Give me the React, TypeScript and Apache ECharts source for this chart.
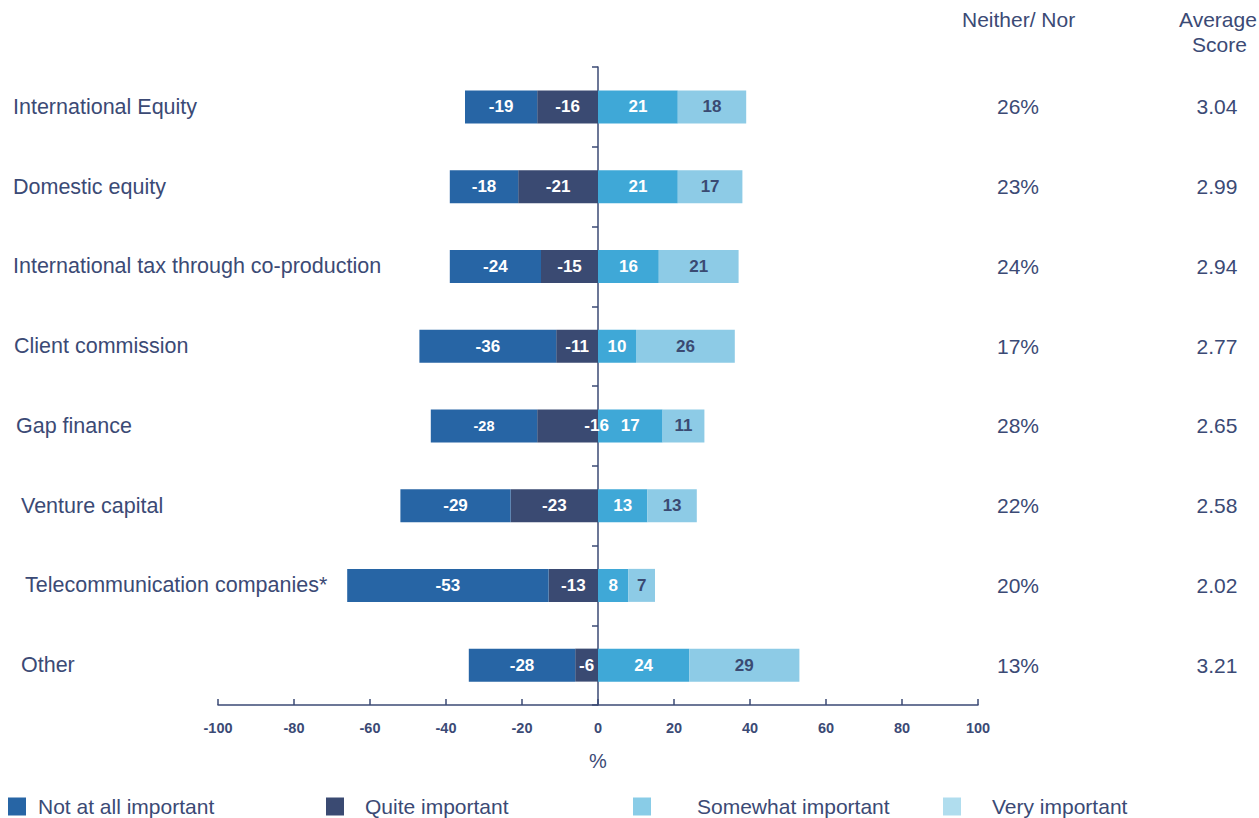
import React, { useEffect, useRef } from "react";
import * as echarts from "echarts";

const categories = [
  "International Equity",
  "Domestic equity",
  "International tax through co-production",
  "Client commission",
  "Gap finance",
  "Venture capital",
  "Telecommunication companies*",
  "Other",
];
const notAtAll = [-19, -18, -24, -36, -28, -29, -53, -28];
const quite = [-16, -21, -15, -11, -16, -23, -13, -6];
const somewhat = [21, 21, 16, 10, 17, 13, 8, 24];
const very = [18, 17, 21, 26, 11, 13, 7, 29];
const neitherNor = ["26%", "23%", "24%", "17%", "28%", "22%", "20%", "13%"];
const avgScore = ["3.04", "2.99", "2.94", "2.77", "2.65", "2.58", "2.02", "3.21"];
const seriesNames = ["Not at all important", "Quite important", "Somewhat important", "Very important"];
const xMin = -100;
const xMax = 100;
const xStep = 20;

// layout style: small left indents of the category labels, as in the original slide
const LABEL_INDENT = [0, 0, 0, 1, 3, 8, 12, 8];

const FONT = "'Liberation Sans', Arial, sans-serif";
const NAVY = "#3B4A75";
const C_NOT = "#2765A5";
const C_QUITE = "#3A4A72";
const C_SOME = "#3FA8D7";
const C_VERY = "#8DCBE6";
const L_SOME = "#89CCE7";
const L_VERY = "#B0DDEE";

export default function App() {
  const ref = useRef<HTMLDivElement>(null);
  useEffect(() => {
    if (!ref.current) return;
    const chart = echarts.init(ref.current, undefined, { renderer: "svg" });

    const barLabel = (color: string) => ({
      show: true,
      position: "inside",
      color,
      fontFamily: FONT,
      fontWeight: "bold",
      fontSize: 17,
    });

    const notData = notAtAll.map((v, i) =>
      categories[i] === "Gap finance" ? { value: v, label: { fontSize: 14.5 } } : v
    );
    const quiteData = quite.map((v, i) =>
      categories[i] === "Gap finance" ? { value: v, label: { offset: [29, 0] } } : v
    );

    const mkLegend = (name: string, color: string, left: number, gap: number) => ({
      show: true,
      left,
      top: 796,
      padding: 0,
      orient: "horizontal",
      selectedMode: false,
      icon: "rect",
      itemWidth: 18,
      itemHeight: 18,
      data: [{ name, itemStyle: { color } }],
      textStyle: {
        color: NAVY,
        fontFamily: FONT,
        fontSize: 21,
        padding: [0, 0, 0, gap],
      },
    });

    const rich: Record<string, any> = {};
    LABEL_INDENT.forEach((p, i) => {
      rich["c" + i] = {
        color: NAVY,
        fontFamily: FONT,
        fontSize: 21.5,
        padding: [0, 0, 0, p],
      };
    });

    const option = {
      animation: false,
      grid: { left: 218, right: 281, top: 67, bottom: 113, containLabel: false, outerBoundsMode: "none" },
      legend: [
        mkLegend(seriesNames[0], C_NOT, 8, 7),
        mkLegend(seriesNames[1], C_QUITE, 326, 16),
        mkLegend(seriesNames[2], L_SOME, 633, 41),
        mkLegend(seriesNames[3], L_VERY, 943, 26),
      ],
      xAxis: {
        type: "value",
        min: xMin,
        max: xMax,
        interval: xStep,
        name: "%",
        nameLocation: "middle",
        nameGap: 46,
        nameTextStyle: { color: NAVY, fontFamily: FONT, fontSize: 20 },
        splitLine: { show: false },
        axisLine: { show: true, lineStyle: { color: NAVY, width: 1.5 } },
        axisTick: { show: true, inside: true, length: 6, lineStyle: { color: NAVY, width: 1.5 } },
        axisLabel: { color: NAVY, fontFamily: FONT, fontSize: 14.5, fontWeight: "bold", margin: 15 },
      },
      yAxis: [
        {
          type: "category",
          data: categories,
          inverse: true,
          position: "left",
          axisLine: { show: true, onZero: true, lineStyle: { color: NAVY, width: 1.5 } },
          axisTick: { show: true, length: 6, lineStyle: { color: NAVY, width: 1.5 } },
          axisLabel: {
            color: NAVY,
            fontFamily: FONT,
            fontSize: 21.5,
            align: "left",
            margin: 205,
            formatter: (v: string, i: number) => `{c${i}|${v}}`,
            rich,
          },
        },
        {
          type: "category",
          data: neitherNor,
          inverse: true,
          position: "right",
          axisLine: { show: false, onZero: false },
          axisTick: { show: false },
          axisLabel: { color: NAVY, fontFamily: FONT, fontSize: 21, align: "center", margin: 40 },
        },
        {
          type: "category",
          data: avgScore,
          inverse: true,
          position: "right",
          axisLine: { show: false, onZero: false },
          axisTick: { show: false },
          axisLabel: { color: NAVY, fontFamily: FONT, fontSize: 21, align: "center", margin: 239 },
        },
      ],
      graphic: [
        {
          type: "text",
          left: 962,
          top: 9,
          style: { text: "Neither/ Nor", fill: NAVY, font: `21px ${FONT}` },
        },
        {
          type: "text",
          left: 1179,
          top: 9,
          style: { text: "Average", fill: NAVY, font: `21px ${FONT}` },
        },
        {
          type: "text",
          left: 1192,
          top: 34,
          style: { text: "Score", fill: NAVY, font: `21px ${FONT}` },
        },
      ],
      series: [
        {
          name: seriesNames[1],
          type: "bar",
          stack: "total",
          yAxisIndex: 0,
          barWidth: 33,
          data: quiteData,
          itemStyle: { color: C_QUITE },
          label: barLabel("#FFFFFF"),
        },
        {
          name: seriesNames[0],
          type: "bar",
          stack: "total",
          yAxisIndex: 0,
          barWidth: 33,
          data: notData,
          itemStyle: { color: C_NOT },
          label: barLabel("#FFFFFF"),
        },
        {
          name: seriesNames[2],
          type: "bar",
          stack: "total",
          yAxisIndex: 0,
          barWidth: 33,
          data: somewhat,
          itemStyle: { color: C_SOME },
          label: barLabel("#FFFFFF"),
        },
        {
          name: seriesNames[3],
          type: "bar",
          stack: "total",
          yAxisIndex: 0,
          barWidth: 33,
          data: very,
          itemStyle: { color: C_VERY },
          label: barLabel(C_QUITE),
        },
      ],
    };
    chart.setOption(option as any);
    return () => chart.dispose();
  }, []);

  return <div ref={ref} style={{ width: 1259, height: 818, position: "absolute", left: 0, top: 0 }} />;
}
